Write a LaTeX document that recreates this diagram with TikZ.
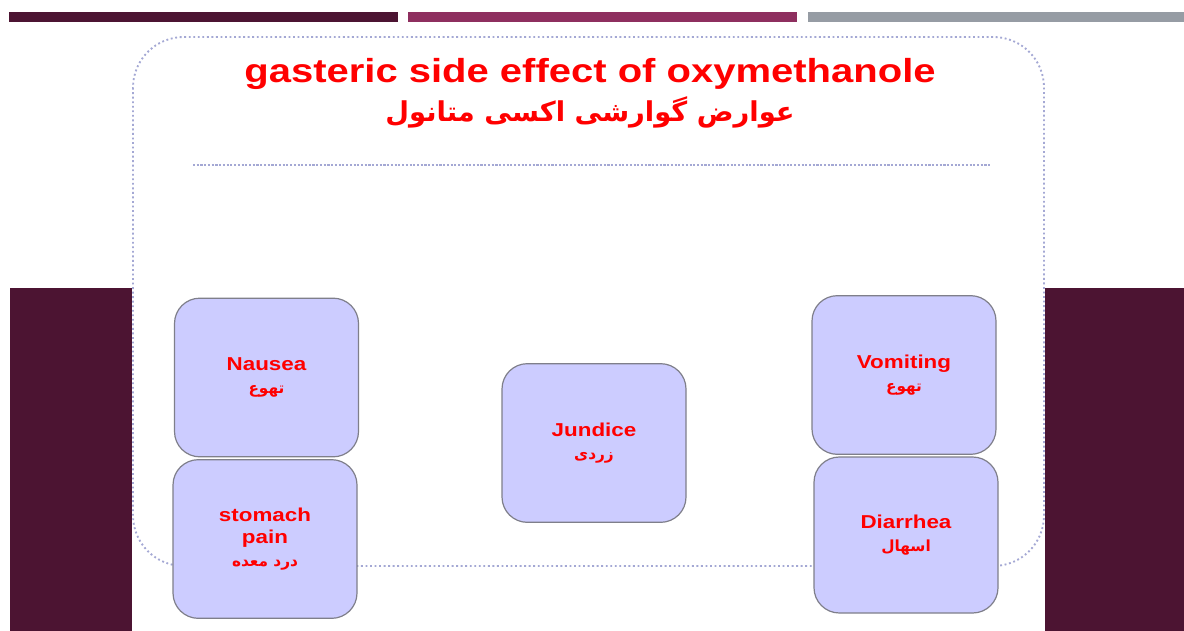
\documentclass[tikz,border=0pt]{standalone}
\usepackage{fontspec}
\setmainfont{Liberation Sans}
\newfontfamily\wide[FakeStretch=1.2]{Liberation Sans}
\newfontfamily\fa[Script=Arabic]{DejaVu Sans}
\TeXXeTstate=1
\definecolor{plum}{HTML}{4C1432}
\definecolor{berry}{HTML}{8E2F5F}
\definecolor{slate}{HTML}{969CA4}
\definecolor{frameline}{HTML}{A4A8D4}
\definecolor{boxfill}{HTML}{CCCCFF}
\definecolor{boxline}{HTML}{7F7F8A}
\definecolor{txtred}{HTML}{FF0000}
\begin{document}
\begin{tikzpicture}[x=0.75pt,y=-0.75pt,
  box/.style={draw=boxline, line width=0.9pt, fill=boxfill, rounded corners=19pt,
    minimum width=138pt, minimum height=119pt, align=center, text=txtred,
    font=\wide\bfseries\fontsize{14}{17}\selectfont, inner sep=0pt},
  frame/.style={draw=frameline, line width=1.4pt, dotted}
  ]
\useasboundingbox (0,0) rectangle (1184,631);
\fill[white] (0,0) rectangle (1184,631);
% top bars
\fill[plum] (9,12) rectangle (398,22);
\fill[berry] (408,12) rectangle (797,22);
\fill[slate] (808,12) rectangle (1184,22);
% side blocks
\fill[plum] (10,288) rectangle (132,631);
\fill[plum] (1045,288) rectangle (1184,631);
% frame
\draw[frame, rounded corners=38pt] (133,37) rectangle (1044,566);
% separator
\coordinate (sepL) at (193,165);
\coordinate (sepR) at (990,165);
\draw[draw=frameline, line width=2pt, dash pattern=on 1.6pt off 1.2pt] (sepL) -- (sepR);
% titles
\node[anchor=base, text=txtred, font=\wide\bfseries\fontsize{25}{29}\selectfont, inner sep=0pt] (title) at (590,83) {gasteric side effect of oxymethanole};
\node[text=txtred, font=\fa\bfseries\fontsize{20.5}{26}\selectfont, inner sep=0pt] (subtitle) at (590,112) {\beginR عوارض گوارشی اکسی متانول\endR};
% boxes
\node[box] (nausea) at (266.5,377.5) {Nausea\\{\fa\bfseries\fontsize{11.5}{14}\selectfont\beginR تهوع\endR}};
\node[box] (stomach) at (265,539) {stomach\\pain\\{\fa\bfseries\fontsize{11.5}{14}\selectfont\beginR درد معده\endR}};
\node[box] (jundice) at (594,443) {Jundice\\{\fa\bfseries\fontsize{11.5}{14}\selectfont\beginR زردی\endR}};
\node[box] (vomiting) at (904,375) {Vomiting\\{\fa\bfseries\fontsize{11.5}{14}\selectfont\beginR تهوع\endR}};
\node[box, minimum height=117pt] (diarrhea) at (906,535) {Diarrhea\\{\fa\bfseries\fontsize{11.5}{14}\selectfont\beginR اسهال\endR}};
\end{tikzpicture}
\end{document}
